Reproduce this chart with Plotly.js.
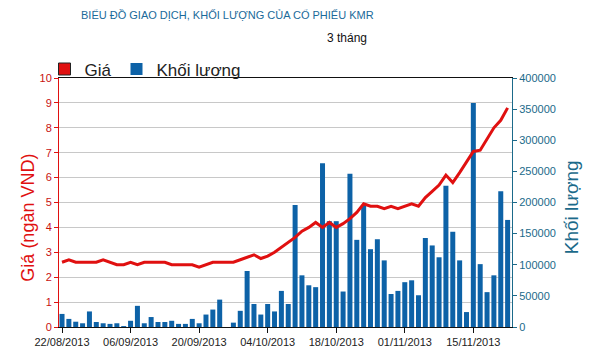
<!DOCTYPE html>
<html><head><meta charset="utf-8">
<script src="https://cdn.plot.ly/plotly-3.0.1.min.js"></script>
<style>html,body{margin:0;padding:0;background:#fff}#c{width:591px;height:356px}</style>
</head><body><div id="c"></div>
<script>
const dates = [
 "22/08/2013","23/08/2013","26/08/2013","27/08/2013","28/08/2013","29/08/2013","30/08/2013",
 "03/09/2013","04/09/2013","05/09/2013","06/09/2013","09/09/2013","10/09/2013","11/09/2013","12/09/2013","13/09/2013",
 "16/09/2013","17/09/2013","18/09/2013","19/09/2013","20/09/2013","23/09/2013","24/09/2013","25/09/2013","26/09/2013","27/09/2013",
 "30/09/2013","01/10/2013","02/10/2013","03/10/2013","04/10/2013","07/10/2013","08/10/2013","09/10/2013","10/10/2013","11/10/2013",
 "14/10/2013","15/10/2013","16/10/2013","17/10/2013","18/10/2013","21/10/2013","22/10/2013","23/10/2013","24/10/2013","25/10/2013",
 "28/10/2013","29/10/2013","30/10/2013","31/10/2013","01/11/2013","04/11/2013","05/11/2013","06/11/2013","07/11/2013","08/11/2013",
 "11/11/2013","12/11/2013","13/11/2013","14/11/2013","15/11/2013","18/11/2013","19/11/2013","20/11/2013","21/11/2013","22/11/2013"
];
const price = [
 2.6,2.7,2.6,2.6,2.6,2.6,2.7,2.6,2.5,2.5,
 2.6,2.5,2.6,2.6,2.6,2.6,2.5,2.5,2.5,2.5,
 2.4,2.5,2.6,2.6,2.6,2.6,2.7,2.8,2.9,2.75,
 2.85,3.0,3.2,3.4,3.6,3.85,4.0,4.2,4.0,4.2,
 4.0,4.15,4.35,4.6,4.95,4.85,4.85,4.75,4.85,4.75,
 4.85,4.95,4.85,5.2,5.45,5.7,6.1,5.8,6.2,6.65,
 7.05,7.1,7.55,8.0,8.3,8.8
];
const volume = [
 21000,13000,8500,6000,25000,8000,6000,5000,6000,1500,
 10000,34000,6000,16000,8000,8000,10000,5000,5000,13000,
 6000,20000,28000,44000,0,7000,26000,90000,37000,20000,
 37000,25000,58000,37000,196000,83000,67000,64000,263000,170000,
 170000,57000,246000,140000,196000,125000,141000,107000,53000,58000,
 72000,75000,51000,143000,131000,112000,227000,153000,107000,24000,
 360000,101000,56000,83000,218000,172000
];
const tickDates = ["22/08/2013","06/09/2013","20/09/2013","04/10/2013","18/10/2013","01/11/2013","15/11/2013"];
const priceName = "Giá";
const volName = "Khối lượng";
const priceTitle = "Giá (ngàn VND)";
const chartTitle = "BIỂU ĐỒ GIAO DỊCH, KHỐI LƯỢNG CỦA CỔ PHIẾU KMR";
const periodLabel = "3 tháng";

const RED = "#e01010", BLUE = "#0d62a7", TEAL = "#1b6a8a";
const F = "Liberation Sans, Arial, sans-serif";

const traces = [
  {x: [], y: [], type: "scatter", xaxis: "x", yaxis: "y", showlegend: false, hoverinfo: "skip"},
  {x: [null], y: [null], type: "bar", name: priceName, xaxis: "x", yaxis: "y",
   marker: {color: RED, line: {color: "#222", width: 1}}, showlegend: true},
  {x: dates, y: volume, type: "bar", name: volName, xaxis: "x", yaxis: "y2", width: 0.73,
   marker: {color: BLUE, line: {color: "#222", width: 0}}, showlegend: true},
  {x: dates, y: price, type: "scatter", mode: "lines", name: priceName, xaxis: "x", yaxis: "y3",
   line: {color: RED, width: 3}, showlegend: false}
];

const layout = {
  width: 591, height: 356,
  margin: {l: 59, r: 79, t: 78, b: 29},
  paper_bgcolor: "#fff", plot_bgcolor: "#fff",
  font: {family: F, size: 11, color: "#222"},
  showlegend: true,
  barmode: "overlay",
  legend: {orientation: "h", x: -0.032, xanchor: "left", y: 0.962, yanchor: "bottom",
    font: {family: F, size: 17, color: "#222"}, bgcolor: "rgba(0,0,0,0)", itemwidth: 30,
    traceorder: "normal", itemclick: false},
  annotations: [
    {text: chartTitle, xref: "paper", yref: "paper", x: 0.373, y: 1.257, xanchor: "center", yanchor: "middle",
     showarrow: false, font: {family: F, size: 11, color: "#1a6a9a"}},
    {text: periodLabel, xref: "paper", yref: "paper", x: 0.635, y: 1.16, xanchor: "center", yanchor: "middle",
     showarrow: false, font: {family: F, size: 12, color: "#111"}},
    {text: priceTitle, xref: "paper", yref: "paper", x: -0.068, y: 0.44, xanchor: "center", yanchor: "middle",
     textangle: -90, showarrow: false, font: {family: F, size: 18, color: RED}},
    {text: volName, xref: "paper", yref: "paper", x: 1.132, y: 0.48, xanchor: "center", yanchor: "middle",
     textangle: -90, showarrow: false, font: {family: F, size: 19, color: TEAL}}
  ],
  xaxis: {type: "category", range: [-0.44, 65.64], tickmode: "array", tickvals: tickDates, ticktext: tickDates,
    showgrid: false, showline: true, linecolor: "#111", linewidth: 1, mirror: true,
    ticks: "outside", ticklen: 5, tickcolor: "#111", tickfont: {family: F, size: 11, color: "#222"},
    zeroline: false, fixedrange: true},
  yaxis: {range: [0, 10], dtick: 1, side: "left", showgrid: true, gridcolor: "#c8c8c8", gridwidth: 1,
    showline: true, linecolor: RED, linewidth: 1, ticks: "outside", ticklen: 4, tickcolor: RED,
    tickfont: {family: F, size: 11, color: "#c81010"}, zeroline: false},
  yaxis2: {range: [0, 400000], dtick: 50000, overlaying: "y", side: "right", showgrid: false,
    showline: true, linecolor: TEAL, linewidth: 1, ticks: "outside", ticklen: 4, tickcolor: TEAL,
    tickfont: {family: F, size: 11, color: TEAL}, zeroline: false, tickformat: "d"},
  yaxis3: {range: [0, 10], overlaying: "y", side: "left", showgrid: false, showline: false,
    showticklabels: false, ticks: "", zeroline: false}
};

Plotly.newPlot("c", traces, layout, {displayModeBar: false, staticPlot: true});
</script></body></html>
